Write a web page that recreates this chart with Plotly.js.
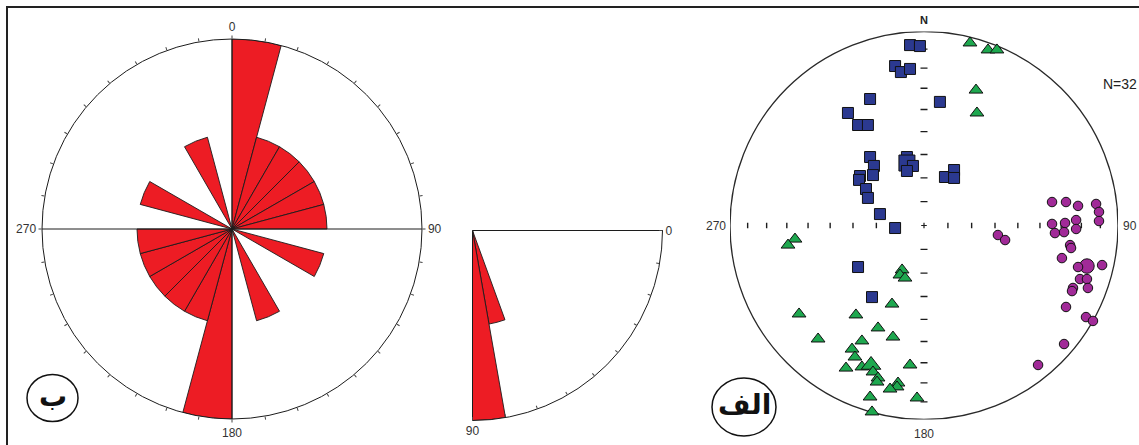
<!DOCTYPE html>
<html>
<head>
<meta charset="utf-8">
<script src="https://cdn.plot.ly/plotly-3.0.1.min.js"></script>
<style>
  html, body { margin: 0; padding: 0; background: #ffffff; }
  #chart { width: 1139px; height: 445px; }
</style>
</head>
<body>
<div id="chart"></div>
<script>
// ---- Strike rose: 15° bins, bidirectional (each bin mirrored at +180°) ----
const strikeBinStart = [0, 15, 30, 45, 60, 75, 90, 105, 120, 135, 150, 165,
                        180, 195, 210, 225, 240, 255, 270, 285, 300, 315, 330, 345];
const strikeCount    = [2, 1, 1, 1, 1, 1, 0, 1, 0, 0, 1, 0,
                        2, 1, 1, 1, 1, 1, 0, 1, 0, 0, 1, 0];

// ---- Dip histogram: 10° bins over 0–90° ----
const dipBinStart = [0, 10, 20, 30, 40, 50, 60, 70, 80];
const dipCount    = [0, 0, 0, 0, 0, 0, 0, 1, 2];

// ---- Equal-area net: projected positions (east, north) on the unit circle ----
const squareE = [-0.072, -0.021, -0.149, -0.119, -0.072, -0.278, 0.082, -0.392, -0.340, -0.289,
                 -0.278, -0.258, -0.263, -0.330, -0.335, -0.299, -0.289, -0.227, -0.149, -0.088,
                 -0.088, -0.057, -0.088, 0.108, 0.155, 0.155, -0.340, -0.268];
const squareN = [0.930, 0.925, 0.822, 0.791, 0.807, 0.652, 0.637, 0.580, 0.518, 0.518,
                 0.353, 0.307, 0.260, 0.255, 0.235, 0.188, 0.142, 0.059, -0.013, 0.353,
                 0.322, 0.307, 0.281, 0.250, 0.286, 0.245, -0.214, -0.369];
const squareCount = [1, 1, 1, 1, 1, 1, 1, 1, 1, 1, 1, 1, 1, 1, 1, 1, 1, 1, 1, 1,
                     3, 1, 1, 1, 1, 1, 1, 1];

const triangleE = [0.237, 0.330, 0.376, 0.268, 0.273, -0.665, -0.701, -0.113, -0.124, -0.098,
                   -0.165, -0.644, -0.351, -0.237, -0.160, -0.546, -0.320, -0.371, -0.356, -0.402,
                   -0.320, -0.273, -0.072, -0.263, -0.237, -0.242, -0.134, -0.139, -0.175, -0.278,
                   -0.036, -0.268];
const triangleN = [0.941, 0.905, 0.905, 0.698, 0.580, -0.070, -0.101, -0.229, -0.255, -0.271,
                   -0.405, -0.456, -0.461, -0.528, -0.575, -0.585, -0.595, -0.637, -0.678, -0.735,
                   -0.729, -0.719, -0.719, -0.755, -0.786, -0.807, -0.812, -0.832, -0.843, -0.884,
                   -0.889, -0.961];
const triangleCount = [1, 1, 1, 1, 1, 1, 1, 1, 1, 1, 1, 1, 1, 1, 1, 1, 1, 1, 1, 1,
                       1, 3, 1, 1, 1, 1, 1, 1, 1, 1, 1, 1];

const circleE = [0.660, 0.732, 0.794, 0.887, 0.902, 0.902, 0.660, 0.727, 0.675, 0.722,
                 0.784, 0.784, 0.753, 0.711, 0.840, 0.794, 0.918, 0.804, 0.840, 0.768,
                 0.763, 0.845, 0.732, 0.835, 0.871, 0.722, 0.588, 0.381, 0.418, 0.758];
const circleN = [0.121, 0.121, 0.101, 0.111, 0.070, 0.023, 0.008, 0.013, -0.039, -0.034,
                 0.028, -0.018, -0.101, -0.168, -0.209, -0.214, -0.204, -0.276, -0.276, -0.322,
                 -0.338, -0.322, -0.420, -0.472, -0.492, -0.611, -0.719, -0.049, -0.075, -0.116];
const circleCount = [1, 1, 1, 1, 1, 1, 1, 1, 1, 1, 1, 1, 1, 1, 3, 1, 1, 1, 1, 1,
                     1, 1, 1, 1, 1, 1, 1, 1, 1, 1];

const sampleTotal = 32;

// Plunge graduations along the net's diameters
const plungeTicks = [10, 20, 30, 40, 50, 60, 70, 80];

// ---------------------------------------------------------------------------
const RED = '#ed1c24';
const INK = '#1c1c1c';
const W = 1139, H = 445;
const px = v => v / W;          // pixel -> paper x
const py = v => 1 - v / H;      // pixel (from top) -> paper y

// Schmidt (equal-area) radius of a line with the given plunge
const schmidt = p => Math.SQRT2 * Math.sin((90 - p) / 2 * Math.PI / 180);

const roseTicks = [];
const roseText = [];
for (let a = 0; a < 360; a += 10) {
  roseTicks.push(a);
  roseText.push(a % 90 === 0 ? String(a) : '');
}
const dipTicks = [];
const dipText = [];
for (let a = 0; a <= 90; a += 10) {
  dipTicks.push(a);
  dipText.push(a === 0 || a === 90 ? String(a) : '');
}

const sizeFor = (base, counts) => counts.map(c => base + (c - 1) * 2.5);

const traces = [
  // strike rose
  {
    type: 'barpolar', subplot: 'polar',
    theta: strikeBinStart.map(s => s + 7.5),
    r: strikeCount,
    width: strikeBinStart.map(() => 15),
    marker: { color: RED, opacity: 1, line: { color: INK, width: 0.9 } },
    hoverinfo: 'skip'
  },
  {
    type: 'scatterpolar', subplot: 'polar', mode: 'lines',
    r: [2, 0, 2], theta: [0, 0, 180],
    line: { color: INK, width: 1 }, hoverinfo: 'skip'
  },
  {
    type: 'scatterpolar', subplot: 'polar', mode: 'lines',
    r: [2, 0, 2], theta: [90, 90, 270],
    line: { color: INK, width: 1 }, hoverinfo: 'skip'
  },
  // dip quadrant
  {
    type: 'barpolar', subplot: 'polar2',
    theta: dipBinStart.map(s => s + 5),
    r: dipCount,
    width: dipBinStart.map(() => 10),
    marker: { color: RED, opacity: 1, line: { color: INK, width: 0.9 } },
    hoverinfo: 'skip'
  },
  // net graduations
  {
    type: 'scatter', mode: 'markers', xaxis: 'x', yaxis: 'y',
    x: plungeTicks.map(schmidt).concat(plungeTicks.map(p => -schmidt(p))),
    y: plungeTicks.map(() => 0).concat(plungeTicks.map(() => 0)),
    marker: { symbol: 'line-ns', size: 4, opacity: 1, line: { color: INK, width: 1.4 } },
    hoverinfo: 'skip'
  },
  {
    type: 'scatter', mode: 'markers', xaxis: 'x', yaxis: 'y',
    y: plungeTicks.map(schmidt).concat(plungeTicks.map(p => -schmidt(p))),
    x: plungeTicks.map(() => 0).concat(plungeTicks.map(() => 0)),
    marker: { symbol: 'line-ew', size: 5, opacity: 1, line: { color: INK, width: 1.4 } },
    hoverinfo: 'skip'
  },
  {
    type: 'scatter', mode: 'markers', xaxis: 'x', yaxis: 'y',
    x: [0], y: [0],
    marker: { symbol: 'cross-thin', size: 4, opacity: 1, line: { color: INK, width: 1.2 } },
    hoverinfo: 'skip'
  },
  // measurement sets
  {
    type: 'scatter', mode: 'markers', xaxis: 'x', yaxis: 'y', cliponaxis: false,
    x: squareE, y: squareN,
    marker: { symbol: 'square', size: sizeFor(11, squareCount), color: '#2b3990', opacity: 1,
              line: { color: '#111111', width: 1 } },
    hoverinfo: 'skip'
  },
  {
    type: 'scatter', mode: 'markers', xaxis: 'x', yaxis: 'y', cliponaxis: false,
    x: triangleE, y: triangleN,
    marker: { symbol: 'triangle-up', size: sizeFor(12, triangleCount), color: '#1ea84f', opacity: 1,
              line: { color: '#111111', width: 1 } },
    hoverinfo: 'skip'
  },
  {
    type: 'scatter', mode: 'markers', xaxis: 'x', yaxis: 'y', cliponaxis: false,
    x: circleE, y: circleN,
    marker: { symbol: 'circle', size: sizeFor(9.5, circleCount), color: '#a12a98', opacity: 1,
              line: { color: '#111111', width: 1 } },
    hoverinfo: 'skip'
  }
];

const labelFont = { family: 'Liberation Sans, Arial, sans-serif', size: 12, color: '#333333' };

const layout = {
  width: W, height: H,
  margin: { l: 0, r: 0, t: 0, b: 0 },
  paper_bgcolor: '#ffffff',
  showlegend: false,
  polar: {
    domain: { x: [px(42), px(422)], y: [py(419), py(39)] },
    bgcolor: '#ffffff',
    angularaxis: {
      rotation: 90, direction: 'clockwise',
      tickmode: 'array', tickvals: roseTicks, ticktext: roseText,
      ticks: 'outside', ticklen: 3, tickcolor: '#444444', tickwidth: 1,
      showgrid: false, showline: true, linecolor: INK, linewidth: 1,
      tickfont: labelFont
    },
    radialaxis: { visible: false, range: [0, 2] }
  },
  polar2: {
    domain: { x: [px(472.5), px(662.5)], y: [py(420.5), py(230.5)] },
    sector: [-90, 0],
    bgcolor: '#ffffff',
    angularaxis: {
      rotation: 0, direction: 'clockwise',
      tickmode: 'array', tickvals: dipTicks, ticktext: dipText,
      ticks: 'inside', ticklen: 3, tickcolor: '#444444', tickwidth: 1,
      showgrid: false, showline: true, linecolor: INK, linewidth: 1,
      tickfont: labelFont
    },
    radialaxis: {
      range: [0, 2], angle: 0, showline: true, linecolor: INK, linewidth: 1,
      showticklabels: false, ticks: '', showgrid: false
    }
  },
  xaxis: { domain: [px(730), px(1118)], range: [-1, 1], visible: false, fixedrange: true },
  yaxis: { domain: [py(419.5), py(31.5)], range: [-1, 1], visible: false, fixedrange: true },
  shapes: [
    // frame
    { type: 'rect', xref: 'paper', yref: 'paper',
      x0: px(7), x1: 1.05, y0: -0.05, y1: py(7),
      line: { color: '#222222', width: 2 }, fillcolor: 'rgba(0,0,0,0)' },
    // net primitive circle
    { type: 'circle', xref: 'x', yref: 'y', x0: -1, x1: 1, y0: -1, y1: 1,
      line: { color: '#2a2a2a', width: 1.3 }, layer: 'below' },
    // panel badges
    { type: 'circle', xref: 'paper', yref: 'paper',
      x0: px(27), x1: px(78), y0: py(421.5), y1: py(374.5),
      line: { color: '#111111', width: 1.5 } },
    { type: 'circle', xref: 'paper', yref: 'paper',
      x0: px(712), x1: px(776), y0: py(436), y1: py(378),
      line: { color: '#111111', width: 1.5 } }
  ],
  annotations: [
    { xref: 'x', yref: 'y', x: 0, y: 1, xanchor: 'center', yanchor: 'bottom', yshift: 3, showarrow: false,
      text: 'N', font: { family: 'Liberation Sans, Arial, sans-serif', size: 11, color: '#222222', weight: 'bold' } },
    { xref: 'x', yref: 'y', x: 0, y: -1, xanchor: 'center', yanchor: 'top', yshift: -5, showarrow: false,
      text: '180', font: labelFont },
    { xref: 'x', yref: 'y', x: -1, y: 0, xanchor: 'right', yanchor: 'middle', xshift: -2, showarrow: false,
      text: '270', font: labelFont },
    { xref: 'x', yref: 'y', x: 1, y: 0, xanchor: 'left', yanchor: 'middle', xshift: 3, showarrow: false,
      text: '90', font: labelFont },
    { xref: 'paper', yref: 'paper', x: px(1120), y: py(84), xanchor: 'center', yanchor: 'middle', showarrow: false,
      text: 'N=' + sampleTotal, font: { family: 'Liberation Sans, Arial, sans-serif', size: 14, color: '#222222' } },
    { xref: 'paper', yref: 'paper', x: px(52.5), y: py(396), xanchor: 'center', yanchor: 'middle', showarrow: false,
      text: 'ب', font: { family: 'DejaVu Sans, sans-serif', size: 28, color: '#111111', weight: 'bold' } },
    { xref: 'paper', yref: 'paper', x: px(744), y: py(404), xanchor: 'center', yanchor: 'middle', showarrow: false,
      text: 'الف', font: { family: 'DejaVu Sans, sans-serif', size: 28, color: '#111111', weight: 'bold' } }
  ]
};

Plotly.newPlot('chart', traces, layout, { staticPlot: true, displayModeBar: false });
</script>
</body>
</html>
